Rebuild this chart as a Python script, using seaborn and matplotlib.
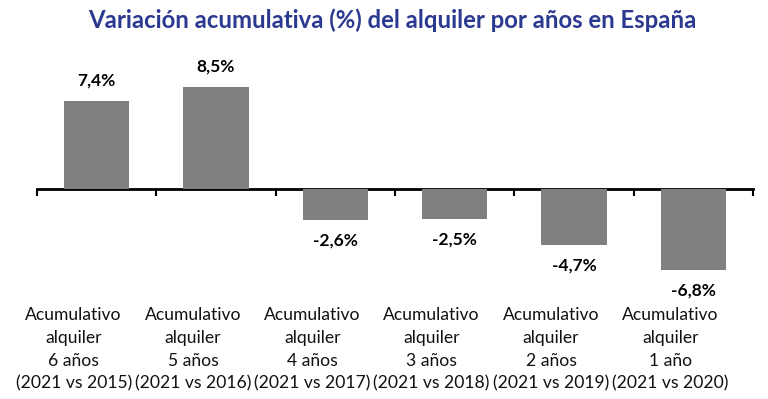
import numpy as np
import pandas as pd
import matplotlib
matplotlib.use("Agg")
import matplotlib.pyplot as plt
import matplotlib.transforms as mtransforms
import seaborn as sns

# ---- data ----
categories = [
    "Acumulativo\nalquiler\n6 años\n(2021 vs 2015)",
    "Acumulativo\nalquiler\n5 años\n(2021 vs 2016)",
    "Acumulativo\nalquiler\n4 años\n(2021 vs 2017)",
    "Acumulativo\nalquiler\n3 años\n(2021 vs 2018)",
    "Acumulativo\nalquiler\n2 años\n(2021 vs 2019)",
    "Acumulativo\nalquiler\n1 año\n(2021 vs 2020)",
]
values = [7.4, 8.5, -2.6, -2.5, -4.7, -6.8]
value_labels = [f"{v:.1f}%".replace(".", ",") for v in values]
title = "Variación acumulativa (%) del alquiler por años en España"

sns.set_style("white")
plt.rcParams["font.family"] = ["Lato", "DejaVu Sans"]

W, H = 768, 399
fig = plt.figure(figsize=(W / 100, H / 100), dpi=100)

zero_px = 189
scale = 11.95
T, B = 50, 295
L, R = 37, 753
ax = fig.add_axes([L / W, (H - B) / H, (R - L) / W, (B - T) / H])

df = pd.DataFrame({"cat": categories, "val": values})
sns.barplot(data=df, x="cat", y="val", color="#808080", saturation=1,
            width=0.55, ax=ax)
for p in ax.patches:
    p.set_edgecolor("none")

ymax = (zero_px - T) / scale
ymin = -(B - zero_px) / scale
ax.set_ylim(ymin, ymax)
ax.set_xlim(-0.5, 5.5)

for sp in ax.spines.values():
    sp.set_visible(False)
ax.set_yticks([])
ax.set_xlabel("")
ax.set_ylabel("")
ax.set_xticks(range(len(categories)))
ax.set_xticklabels(categories, fontsize=12.6, linespacing=1.5, color="#111111")
ax.tick_params(axis="x", length=0, pad=9)
# category labels sit a little left of the bar centres in the reference
shift = mtransforms.ScaledTranslation(-0.23, 0, fig.dpi_scale_trans)
for lab in ax.get_xticklabels():
    lab.set_transform(lab.get_transform() + shift)

# zero axis with tick marks between categories
zero_frac = -ymin / (ymax - ymin)
sec = ax.secondary_xaxis(zero_frac)
sec.set_xticks(np.arange(-0.5, len(categories), 1.0))
sec.tick_params(axis="x", direction="out", length=5, width=1.5,
                labelbottom=False, color="black")
sec.spines["bottom"].set_linewidth(2)
sec.spines["bottom"].set_color("black")

ax.bar_label(ax.containers[0], labels=value_labels, padding=9,
             fontsize=12.5, fontweight="bold", color="black")

fig.text(392 / W, 1 - 20 / H, title, ha="center", va="center",
         fontsize=17.2, fontweight="bold", color="#2B3990")

fig.savefig("out.png", dpi=100)
